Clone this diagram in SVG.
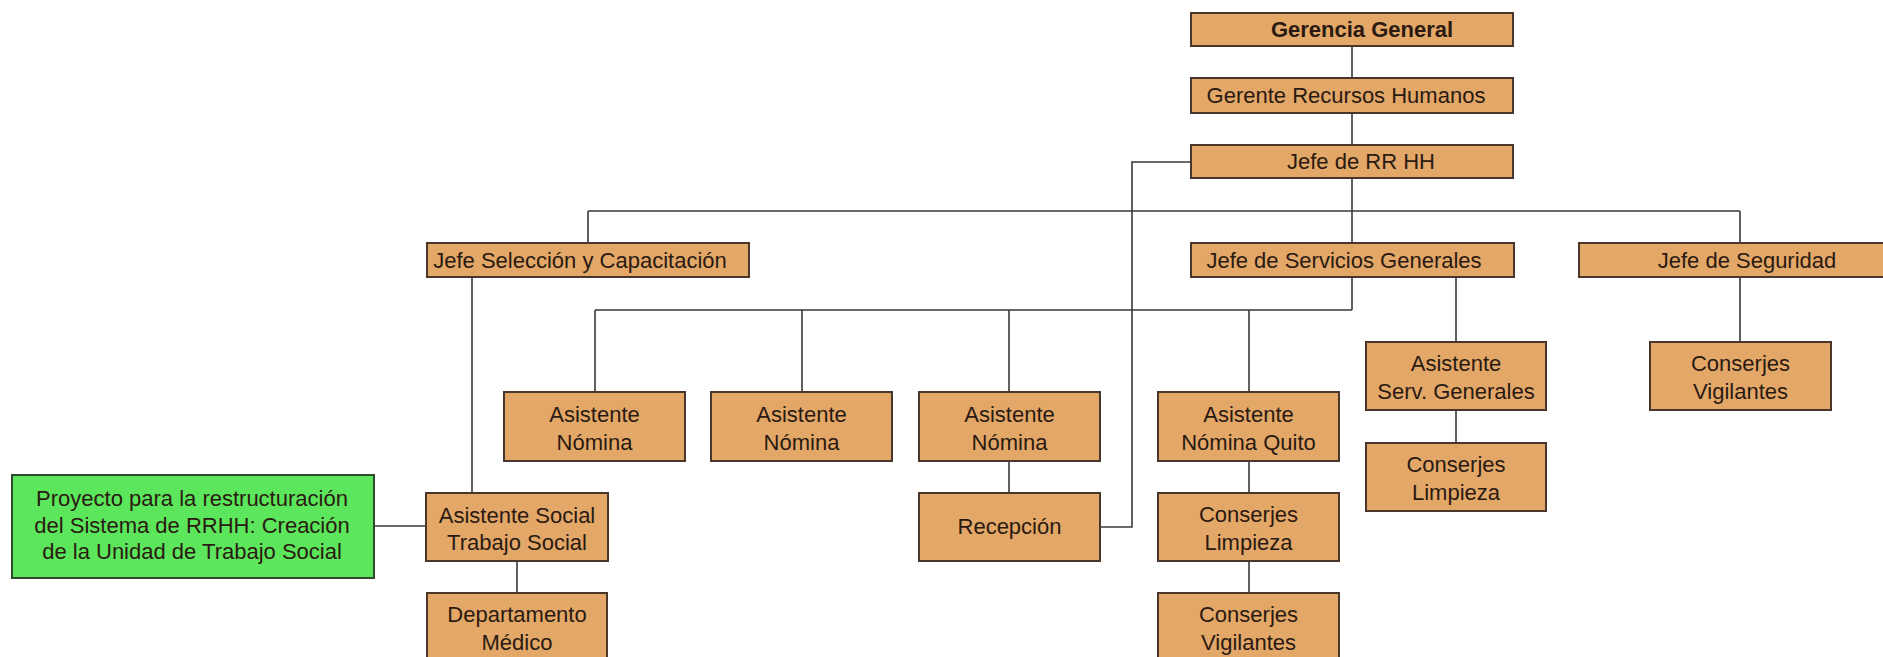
<svg xmlns="http://www.w3.org/2000/svg" width="1883" height="657" viewBox="0 0 1883 657">
<style>
.box{fill:#e3a768;stroke:#4a372b;stroke-width:2}
.green{fill:#5be65b;stroke:#2f4a2f;stroke-width:2}
.t{font-family:"Liberation Sans",Arial,sans-serif;font-size:22px;fill:#2a1a12}
.m{text-anchor:middle}
.b{font-weight:bold}
.c{fill:none;stroke:#3a3a3a;stroke-width:1.6}
</style>
<rect width="1883" height="657" fill="#ffffff"/>
<g id="connectors">
<path class="c" d="M1352,46V78M1352,113V145M1352,178V243M588,211H1740M588,211V243M1740,211V243"/>
<path class="c" d="M1352,277V310M595,310H1352M595,310V392M802,310V392M1009,310V392M1249,310V392"/>
<path class="c" d="M1456,277V342M1456,410V443M1740,277V342"/>
<path class="c" d="M472,277V493M374,526H426M517,561V593"/>
<path class="c" d="M1009,461V493M1100,527H1132V162H1191"/>
<path class="c" d="M1249,461V493M1249,561V593"/>
</g>
<g id="gerencia-general"><rect class="box" x="1191" y="13" width="322" height="33"/><text class="t m b" x="1362" y="37">Gerencia General</text></g>
<g id="gerente-rrhh"><rect class="box" x="1191" y="78" width="322" height="35"/><text class="t m" x="1346" y="103">Gerente Recursos Humanos</text></g>
<g id="jefe-rrhh"><rect class="box" x="1191" y="145" width="322" height="33"/><text class="t m" x="1361" y="169">Jefe de RR HH</text></g>
<g id="jefe-seleccion"><rect class="box" x="427" y="243" width="322" height="34"/><text class="t m" x="580" y="268">Jefe Selección y Capacitación</text></g>
<g id="jefe-servicios"><rect class="box" x="1191" y="243" width="323" height="34"/><text class="t m" x="1344" y="268">Jefe de Servicios Generales</text></g>
<g id="jefe-seguridad"><rect class="box" x="1579" y="243" width="310" height="34"/><text class="t m" x="1747" y="268">Jefe de Seguridad</text></g>
<g id="asistente-nomina-1"><rect class="box" x="504" y="392" width="181" height="69"/><text class="t m" x="594.5" y="422">Asistente</text><text class="t m" x="594.5" y="450">Nómina</text></g>
<g id="asistente-nomina-2"><rect class="box" x="711" y="392" width="181" height="69"/><text class="t m" x="801.5" y="422">Asistente</text><text class="t m" x="801.5" y="450">Nómina</text></g>
<g id="asistente-nomina-3"><rect class="box" x="919" y="392" width="181" height="69"/><text class="t m" x="1009.5" y="422">Asistente</text><text class="t m" x="1009.5" y="450">Nómina</text></g>
<g id="asistente-nomina-quito"><rect class="box" x="1158" y="392" width="181" height="69"/><text class="t m" x="1248.5" y="422">Asistente</text><text class="t m" x="1248.5" y="450">Nómina Quito</text></g>
<g id="asistente-serv-generales"><rect class="box" x="1366" y="342" width="180" height="68"/><text class="t m" x="1456" y="371">Asistente</text><text class="t m" x="1456" y="399">Serv. Generales</text></g>
<g id="conserjes-limpieza-serv"><rect class="box" x="1366" y="443" width="180" height="68"/><text class="t m" x="1456" y="472">Conserjes</text><text class="t m" x="1456" y="500">Limpieza</text></g>
<g id="conserjes-vigilantes-seg"><rect class="box" x="1650" y="342" width="181" height="68"/><text class="t m" x="1740.5" y="371">Conserjes</text><text class="t m" x="1740.5" y="399">Vigilantes</text></g>
<g id="recepcion"><rect class="box" x="919" y="493" width="181" height="68"/><text class="t m" x="1009.5" y="534">Recepción</text></g>
<g id="conserjes-limpieza-quito"><rect class="box" x="1158" y="493" width="181" height="68"/><text class="t m" x="1248.5" y="522">Conserjes</text><text class="t m" x="1248.5" y="550">Limpieza</text></g>
<g id="conserjes-vigilantes-quito"><rect class="box" x="1158" y="593" width="181" height="70"/><text class="t m" x="1248.5" y="622">Conserjes</text><text class="t m" x="1248.5" y="650">Vigilantes</text></g>
<g id="asistente-social"><rect class="box" x="426" y="493" width="182" height="68"/><text class="t m" x="517" y="523">Asistente Social</text><text class="t m" x="517" y="550">Trabajo Social</text></g>
<g id="departamento-medico"><rect class="box" x="427" y="593" width="180" height="70"/><text class="t m" x="517" y="622">Departamento</text><text class="t m" x="517" y="650">Médico</text></g>
<g id="proyecto"><rect class="green" x="12" y="475" width="362" height="103"/><text class="t m" x="192" y="506">Proyecto para la restructuración</text><text class="t m" x="192" y="533">del Sistema de RRHH: Creación</text><text class="t m" x="192" y="559">de la Unidad de Trabajo Social</text></g>
</svg>
